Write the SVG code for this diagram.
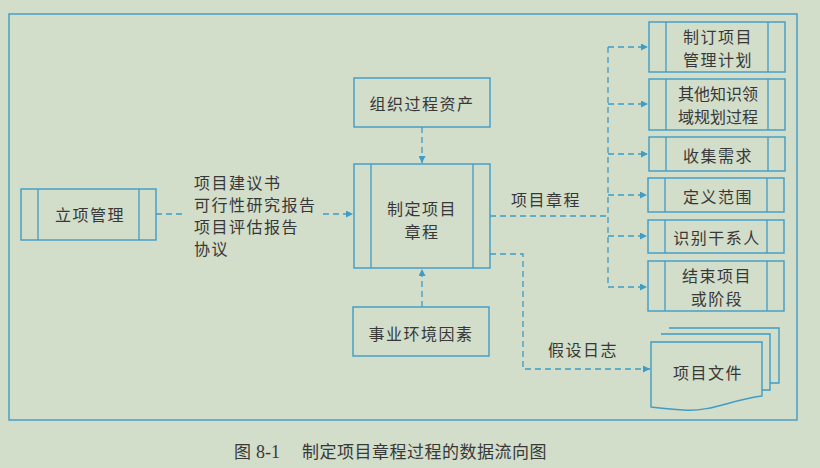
<svg xmlns="http://www.w3.org/2000/svg" width="820" height="468" viewBox="0 0 820 468">
<defs>
<style>
.bg{fill:#d2ddca}
.box{fill:none;stroke:#3e9cc6;stroke-width:1.4}
.ln{fill:none;stroke:#3e9cc6;stroke-width:1.3}
.dash{fill:none;stroke:#3e9cc6;stroke-width:1.3;stroke-dasharray:6 4}
.t{font-family:"Noto Sans CJK SC","Noto Sans",sans-serif;font-size:16px;fill:#383838;letter-spacing:1.5px}
.c{text-anchor:middle;dominant-baseline:central}
.cap{font-family:"Noto Sans CJK SC",sans-serif;font-size:17px;fill:#383838}
.num{font-family:"Liberation Serif",serif;font-size:18px;fill:#383838}
</style>
<marker id="ah" viewBox="0 0 10 10" refX="10" refY="5" markerWidth="9" markerHeight="7" markerUnits="userSpaceOnUse" orient="auto">
<path d="M0,0 L10,5 L0,10 z" fill="#3e9cc6"/>
</marker>
</defs>
<rect class="bg" x="0" y="0" width="820" height="468"/>
<rect class="box" x="9" y="14" width="788" height="406"/>

<g id="lixiang">
<rect class="box" x="21" y="189" width="135" height="51"/>
<line class="ln" x1="38" y1="189" x2="38" y2="240"/>
<line class="ln" x1="139" y1="189" x2="139" y2="240"/>
<text class="t c" x="90" y="214">立项管理</text>
</g>

<g id="zuzhi">
<rect class="box" x="354" y="78" width="136" height="49"/>
<text class="t c" x="422" y="103">组织过程资产</text>
</g>

<g id="zhiding">
<rect class="box" x="354" y="164" width="136" height="104"/>
<line class="ln" x1="371" y1="164" x2="371" y2="268"/>
<line class="ln" x1="473" y1="164" x2="473" y2="268"/>
<text class="t c" x="422" y="208">制定项目</text>
<text class="t c" x="422" y="231">章程</text>
</g>

<g id="shiye">
<rect class="box" x="353" y="307" width="136" height="49"/>
<text class="t c" x="421" y="333">事业环境因素</text>
</g>

<g id="r1">
<rect class="box" x="649" y="22" width="136" height="50"/>
<line class="ln" x1="666" y1="22" x2="666" y2="72"/>
<line class="ln" x1="768" y1="22" x2="768" y2="72"/>
<text class="t c" x="718" y="36">制订项目</text>
<text class="t c" x="718" y="59">管理计划</text>
</g>
<g id="r2">
<rect class="box" x="649" y="79" width="136" height="51"/>
<line class="ln" x1="666" y1="79" x2="666" y2="130"/>
<line class="ln" x1="768" y1="79" x2="768" y2="130"/>
<text class="t c" x="718" y="93" style="letter-spacing:0">其他知识领</text>
<text class="t c" x="718" y="116" style="letter-spacing:0">域规划过程</text>
</g>
<g id="r3">
<rect class="box" x="649" y="137" width="136" height="34"/>
<line class="ln" x1="666" y1="137" x2="666" y2="171"/>
<line class="ln" x1="768" y1="137" x2="768" y2="171"/>
<text class="t c" x="718" y="155">收集需求</text>
</g>
<g id="r4">
<rect class="box" x="648" y="178" width="136" height="34"/>
<line class="ln" x1="665" y1="178" x2="665" y2="212"/>
<line class="ln" x1="767" y1="178" x2="767" y2="212"/>
<text class="t c" x="718" y="196">定义范围</text>
</g>
<g id="r5">
<rect class="box" x="648" y="220" width="136" height="33"/>
<line class="ln" x1="665" y1="220" x2="665" y2="253"/>
<line class="ln" x1="767" y1="220" x2="767" y2="253"/>
<text class="t c" x="717" y="237">识别干系人</text>
</g>
<g id="r6">
<rect class="box" x="648" y="261" width="136" height="50"/>
<line class="ln" x1="665" y1="261" x2="665" y2="311"/>
<line class="ln" x1="767" y1="261" x2="767" y2="311"/>
<text class="t c" x="717" y="275">结束项目</text>
<text class="t c" x="717" y="298">或阶段</text>
</g>

<g id="wenjian">
<path class="box" d="M669,328 H779 V383 H770"/>
<path class="box" d="M661,334 H770 V390 H762"/>
<path class="box" d="M651,342 H762 V396 C730,400 712,412 683,410 C668,409 658,408 651,407 Z" fill="#d2ddca"/>
<text class="t c" x="708" y="372">项目文件</text>
</g>

<g id="labels">
<text class="t" x="194" y="189">项目建议书</text>
<text class="t" x="194" y="211">可行性研究报告</text>
<text class="t" x="194" y="233">项目评估报告</text>
<text class="t" x="194" y="255">协议</text>
<text class="t c" x="546" y="199">项目章程</text>
<text class="t c" x="583" y="349">假设日志</text>
</g>

<g id="connectors">
<line class="dash" x1="156" y1="214" x2="184" y2="214"/>
<line class="dash" x1="323" y1="214" x2="353" y2="214" marker-end="url(#ah)"/>
<line class="dash" x1="422" y1="127" x2="422" y2="163" marker-end="url(#ah)"/>
<line class="dash" x1="422" y1="307" x2="422" y2="269" marker-end="url(#ah)"/>
<line class="dash" x1="490" y1="216" x2="608" y2="216"/>
<line class="dash" x1="608" y1="47" x2="608" y2="287"/>
<line class="dash" x1="608" y1="47" x2="648" y2="47" marker-end="url(#ah)"/>
<line class="dash" x1="608" y1="104" x2="648" y2="104" marker-end="url(#ah)"/>
<line class="dash" x1="608" y1="154" x2="648" y2="154" marker-end="url(#ah)"/>
<line class="dash" x1="608" y1="195" x2="647" y2="195" marker-end="url(#ah)"/>
<line class="dash" x1="608" y1="236" x2="647" y2="236" marker-end="url(#ah)"/>
<line class="dash" x1="608" y1="287" x2="647" y2="287" marker-end="url(#ah)"/>
<path class="dash" d="M490,254 H523 V369 H650" marker-end="url(#ah)"/>
</g>

<g id="caption">
<text class="cap" x="234" y="458">图</text>
<text class="num" x="256" y="458">8-1</text>
<text class="cap" x="302" y="458" style="letter-spacing:0.5px">制定项目章程过程的数据流向图</text>
</g>
</svg>
